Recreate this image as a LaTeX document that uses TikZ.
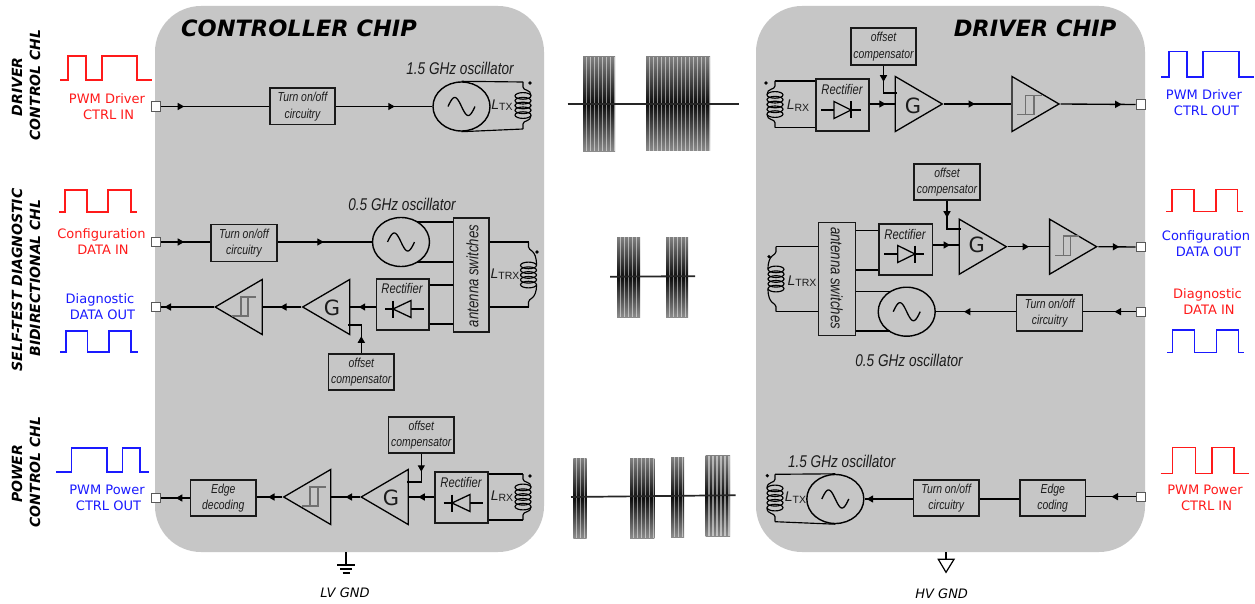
\documentclass[tikz,border=0pt]{standalone}
\usepackage{fontspec}
\usetikzlibrary{shapes.geometric,arrows.meta,decorations.markings,calc}
\setmainfont{Liberation Sans}
\newfontfamily\narrowit[FakeStretch=0.8,ItalicFont={Liberation Sans Italic}]{Liberation Sans}
\newfontfamily\dejavu{DejaVu Sans}
\definecolor{chipgray}{HTML}{C6C6C6}
\definecolor{inkdark}{HTML}{1C1C1C}
\definecolor{glyphgray}{HTML}{707070}
\definecolor{sigred}{HTML}{FF1A1A}
\definecolor{sigblue}{HTML}{1A1AFF}
\tikzset{
  chip/.style={fill=chipgray,rounded corners=46pt},
  blockbox/.style={draw=black!90,line width=1.5pt,inner sep=0pt,align=center,font=\narrowit\itshape\fontsize{13}{16.5}\selectfont,text=inkdark},
  osc/.style={ellipse,draw=black,line width=1.4pt,minimum width=57pt,minimum height=49pt,inner sep=0pt},
  port/.style={draw=black!65,fill=white,line width=0.9pt,minimum size=9.5pt,inner sep=0pt},
  ampl/.style={isosceles triangle,isosceles triangle stretches,draw=black,line width=1.3pt,minimum height=47pt,minimum width=55pt,inner sep=0pt,anchor=apex,shape border rotate=180},
  ampr/.style={ampl,shape border rotate=0},
  gtext/.style={font=\dejavu\fontsize{21}{21}\selectfont,text=inkdark,inner sep=0pt},
  wire/.style={draw=black,line width=1.35pt},
  thinw/.style={draw=black,line width=1.15pt},
  arr/.style={postaction={decorate},decoration={markings,mark=at position #1pt with {\arrow{Triangle[length=6.5pt,width=7pt]}}}},
  sig/.style={font=\dejavu\fontsize{13}{16}\selectfont,align=center,inner sep=0pt},
  wave/.style={line width=1.5pt},
  chl/.style={font=\dejavu\bfseries\itshape\fontsize{14}{14}\selectfont,rotate=90,inner sep=0pt},
  title/.style={font=\dejavu\bfseries\itshape\fontsize{22.5}{23}\selectfont,inner sep=0pt},
  osclabel/.style={font=\narrowit\itshape\fontsize{17}{17}\selectfont,text=inkdark,inner sep=0pt},
  boxtitle/.style={font=\narrowit\itshape\fontsize{14}{14}\selectfont,text=inkdark,inner sep=0pt},
  swtext/.style={font=\narrowit\itshape\fontsize{16.5}{16.5}\selectfont,text=inkdark,inner sep=0pt},
  lab/.style={font=\fontsize{14}{14}\selectfont,text=inkdark,inner sep=0pt},
  gndlabel/.style={font=\dejavu\itshape\fontsize{13}{13}\selectfont,inner sep=0pt},
  hyst/.style={draw=glyphgray,line width=1.5pt}
}
% coil: centre x, wire top y, wire bottom y, loops centre y, side sign, dot x, dot y
\newcommand{\coilsym}[7]{%
  \draw[thinw] (#1,#2) -- (#1,#2+5) .. controls (#1,#2+9) and (#1+#5*8,#2+7) .. (#1+#5*8,#4-10);
  \draw[thinw] (#1,#3) -- (#1,#3-5) .. controls (#1,#3-9) and (#1+#5*8,#3-7) .. (#1+#5*8,#4+10);
  \foreach \k in {-2,-1,0,1,2} {\draw[thinw] (#1,#4+\k*4.8) ellipse [x radius=8,y radius=3.3];}
  \fill (#6,#7) circle (1.8);
}
% schmitt glyph: low bar start, x1, x2, high bar end, ytop, ybot
\newcommand{\hystglyph}[6]{\draw[hyst] (#1,#6) -- (#3,#6) -- (#3,#5) (#2,#6) -- (#2,#5) -- (#4,#5);}
% diode: wire start, wire end, y, triangle base x, tip x, half height
\newcommand{\diodesym}[6]{%
  \draw[line width=1.3pt] (#1,#3) -- (#2,#3);
  \draw[line width=1.3pt,fill=chipgray] (#4,#3-#6) -- (#5,#3) -- (#4,#3+#6) -- cycle;
  \draw[line width=1.3pt] (#5,#3-#6) -- (#5,#3+#6);
}
\newcommand{\sinewave}[1]{\draw[line width=1.3pt,shift={(#1.center)}] plot[domain=-1:1,samples=41,smooth] ({13.5*\x},{-9*sin(180*(\x+1))});}
% burst: x0, x1, ytop, ybot
\newcommand{\burstsym}[4]{%
  \shade[top color=black!50,bottom color=black!45,middle color=black!95] (#1,#3) rectangle (#2,#4);
  \pgfmathsetmacro{\bxs}{#1+3.2}
  \pgfmathsetmacro{\bxt}{#1+7.2}
  \foreach \bx in {\bxs,\bxt,...,#2} {\draw[white,opacity=0.5,line width=1.2pt] (\bx,#3) -- (\bx,#4);}
}
\begin{document}
\begin{tikzpicture}[x=1pt,y=-1pt]
\useasboundingbox (0,0) rectangle (1255,604);
\fill[white] (0,0) rectangle (1255,604);
% chips
\path[chip] (155,6) rectangle (544,552);
\path[chip] (756,6) rectangle (1145,552);
\node[title,anchor=center] (ctitle) at (299,28) {CONTROLLER CHIP};
\node[title,anchor=center] (dtitle) at (1035,28) {DRIVER CHIP};
% left channel labels
\node[chl] (l1a) at (17,87) {DRIVER};
\node[chl] (l1b) at (35,85) {CONTROL CHL};
\node[chl] (l2a) at (17,280) {SELF-TEST DIAGNOSTIC};
\node[chl] (l2b) at (35,278) {BIDIRECTIONAL CHL};
\node[chl] (l3a) at (17,474) {POWER};
\node[chl] (l3b) at (35,472) {CONTROL CHL};
% waveforms
\draw[wave,sigred] (60,80) -- (68,80) -- (68,56) -- (86,56) -- (86,80) -- (102,80) -- (102,56) -- (137,56) -- (137,80) -- (152,80);
\draw[wave,sigred] (59,212) -- (65,212) -- (65,190) -- (87,190) -- (87,212) -- (108,212) -- (108,190) -- (131,190) -- (131,212) -- (137,212);
\draw[wave,sigblue] (60,352) -- (66,352) -- (66,331) -- (87.5,331) -- (87.5,352) -- (109,352) -- (109,331) -- (131,331) -- (131,352) -- (137.5,352);
\draw[wave,sigblue] (56,472) -- (71.5,472) -- (71.5,448) -- (107,448) -- (107,472) -- (122.5,472) -- (122.5,448) -- (140,448) -- (140,472) -- (149,472);
\draw[wave,sigblue] (1161,77) -- (1169,77) -- (1169,51.7) -- (1187,51.7) -- (1187,77) -- (1203,77) -- (1203,51.7) -- (1239,51.7) -- (1239,77) -- (1254,77);
\draw[wave,sigred] (1166,211.7) -- (1172,211.7) -- (1172,189.3) -- (1194,189.3) -- (1194,211.7) -- (1216,211.7) -- (1216,189.3) -- (1237.7,189.3) -- (1237.7,211.7) -- (1243.3,211.7);
\draw[wave,sigblue] (1167.3,352.3) -- (1172.7,352.3) -- (1172.7,330) -- (1194.7,330) -- (1194.7,352.3) -- (1216.7,352.3) -- (1216.7,330) -- (1238.3,330) -- (1238.3,352.3) -- (1244,352.3);
\draw[wave,sigred] (1160.7,473.3) -- (1172.3,473.3) -- (1172.3,447.3) -- (1195.3,447.3) -- (1195.3,473.3) -- (1212,473.3) -- (1212,447.3) -- (1234,447.3) -- (1234,473.3) -- (1249.3,473.3);
% signal labels
\node[sig,text=sigred] (s1) at (107,107) {PWM Driver\\[0pt]\hspace*{3pt}CTRL IN};
\node[sig,text=sigred] (s2) at (101.5,242) {Configuration\\[0pt]\hspace*{3pt}DATA IN};
\node[sig,text=sigblue] (s3) at (100,307) {Diagnostic\\[0pt]\hspace*{5pt}DATA OUT};
\node[sig,text=sigblue] (s4) at (107,498) {PWM Power\\[0pt]\hspace*{3pt}CTRL OUT};
\node[sig,text=sigblue] (s5) at (1204,103) {PWM Driver\\[0pt]\hspace*{5pt}CTRL OUT};
\node[sig,text=sigblue] (s6) at (1206,244) {Configuration\\[0pt]\hspace*{5pt}DATA OUT};
\node[sig,text=sigred] (s7) at (1207.5,302) {Diagnostic\\[0pt]\hspace*{3pt}DATA IN};
\node[sig,text=sigred] (s8) at (1205,498) {PWM Power\\[0pt]\hspace*{3pt}CTRL IN};
% bursts
\burstsym{583}{615}{57}{151.5}
\burstsym{646}{678}{57}{151}
\burstsym{678}{710}{57}{151}
\draw[line width=2pt,black!85] (567.7,103.7) -- (739,103.7);
\burstsym{617}{640}{237}{317}
\burstsym{666}{688}{237}{317}
\draw[line width=1.8pt,black!85] (610,276.7) -- (695,276.2);
\burstsym{573.3}{586.7}{458}{538}
\burstsym{630}{654.3}{458}{538}
\burstsym{671}{684}{457}{537}
\burstsym{705.7}{730}{455.7}{536}
\draw[line width=1.7pt,black!85] (571,497) -- (735.7,495.2);

% ---------- CONTROLLER row 1
\node[port] (p1) at (156,106.5) {};
\node[blockbox,minimum width=65pt,minimum height=36.5pt] (c1turn) at (302.5,106.5) {Turn on/off\\circuitry};
\node[osc] (c1osc) at (461.5,106.5) {};
\sinewave{c1osc}
\node[osclabel] (c1ol) at (460,68) {1.5 GHz oscillator};
\node[lab] (c1L) at (502,105) {\textit{L}\raisebox{-1.5pt}{\fontsize{10.5}{10.5}\selectfont TX}};
\coordinate (c1ct) at (523,82);
\coordinate (c1cb) at (523,129);
\coilsym{523}{82}{129}{105.5}{1}{530}{83}
\path[wire,arr=23] (p1.east) -- (c1turn.west);
\path[wire,arr=59] (c1turn.east) -- (c1osc.west);
\draw[thinw] (c1osc.north) -- (c1ct);
\draw[thinw] (c1osc.south) -- (c1cb);

% ---------- CONTROLLER row 2
\node[port] (p2) at (156,242) {};
\node[blockbox,minimum width=66pt,minimum height=37pt] (c2turn) at (244,243) {Turn on/off\\circuitry};
\node[osc] (c2osc) at (401,242) {};
\sinewave{c2osc}
\node[osclabel] (c2ol) at (402,204) {0.5 GHz oscillator};
\node[blockbox,minimum width=35.5pt,minimum height=114pt] (c2sw) at (471.3,275) {};
\node[swtext,rotate=90] (c2swt) at (472.5,276) {antenna switches};
\path[wire,arr=23] (p2.east) -- (c2turn.west |- p2);
\path[wire,arr=46] (c2turn.east |- c2osc) -- (c2osc.west);
\coordinate (c2oa1) at ($(c2osc.center)+(16.4,-20)$);
\coordinate (c2ob1) at ($(c2osc.center)+(16.4,20)$);
\draw[thinw] (c2oa1) -- (c2sw.west |- c2oa1);
\draw[thinw] (c2ob1) -- (c2sw.west |- c2ob1);
\coordinate (c2ct) at (528.5,242);
\coordinate (c2cb) at (528.5,307);
\draw[thinw] (c2sw.east |- c2ct) -- (c2ct);
\draw[thinw] (c2sw.east |- c2cb) -- (c2cb);
\coilsym{528.5}{242}{307}{275}{1}{537}{252}
\node[lab] (c2L) at (505,274) {\textit{L}\raisebox{-1.5pt}{\fontsize{10.5}{10.5}\selectfont TRX}};
\node[blockbox,minimum width=52.5pt,minimum height=51pt] (c2rect) at (402.7,304.5) {};
\node[boxtitle] (c2rt) at (402,288) {Rectifier};
\diodesym{385}{424}{309}{411}{393}{8.5}
\draw[thinw] (c2rect.east |- 0,285) -- (c2sw.west |- 0,285);
\draw[thinw] (c2rect.east |- 0,324) -- (c2sw.west |- 0,324);
\node[ampl] (c2g) at (301,307) {};
\node[gtext] (c2gt) at (332,308) {G};
\node[ampl] (c2s) at (213.5,307) {};
\hystglyph{232}{241}{248}{256}{297}{316}
\node[port] (p3) at (156,307) {};
\node[blockbox,minimum width=65.5pt,minimum height=36pt] (c2off) at (361.3,372) {offset\\compensator};
\path[wire,arr=17] (c2rect.west |- c2g) -- (c2g.lower side);
\path[wire,arr=21] (c2g.apex) -- (c2s.lower side);
\path[wire,arr=49] (c2s.apex) -- (p3.east);
\coordinate (c2oa) at (347.5,325);
\path[wire,arr=17] (c2off.north) |- (c2oa);

% ---------- CONTROLLER row 3
\node[port] (p4) at (156,498) {};
\node[blockbox,minimum width=65.5pt,minimum height=36pt] (c3edge) at (223.3,498) {Edge\\decoding};
\node[ampl] (c3s) at (282,497) {};
\hystglyph{302}{310}{318}{326}{487}{506}
\node[ampl] (c3g) at (359.5,497) {};
\node[gtext] (c3gt) at (391,498) {G};
\node[blockbox,minimum width=53pt,minimum height=51pt] (c3rect) at (461.5,497.5) {};
\node[boxtitle] (c3rt) at (461,482) {Rectifier};
\diodesym{443.5}{483}{503}{470}{452}{8.5}
\node[blockbox,minimum width=65.5pt,minimum height=36pt] (c3off) at (421.3,435) {offset\\compensator};
\path[wire,arr=16] (c3rect.west |- c3g) -- (c3g.lower side);
\path[wire,arr=14] (c3g.apex) -- (c3s.lower side);
\path[wire,arr=14] (c3s.apex) -- (c3edge.east |- c3s);
\path[wire,arr=14] (c3edge.west |- p4) -- (p4.east);
\coordinate (c3oa) at (407,482);
\path[wire,arr=18] (c3off.south) |- (c3oa);
\coordinate (c3ct) at (523,474);
\coordinate (c3cb) at (523,520);
\draw[thinw] (c3rect.east |- c3ct) -- (c3ct);
\draw[thinw] (c3rect.east |- c3cb) -- (c3cb);
\coilsym{523}{474}{520}{497}{1}{530}{476}
\node[lab] (c3L) at (502,496) {\textit{L}\raisebox{-1.5pt}{\fontsize{10.5}{10.5}\selectfont RX}};

% LV GND
\coordinate (lvtop) at (346,552);
\coordinate (lvbot) at (346,565);
\draw[line width=1.2pt] (lvtop) -- (lvbot);
\draw[line width=1.2pt] (337,565) -- (355,565) (340,569) -- (352,569) (342.5,573) -- (349.5,573);
\node[gndlabel] (lvgnd) at (345,593) {LV GND};

% ---------- DRIVER row 1
\node[blockbox,minimum width=65pt,minimum height=37pt] (d1off) at (883.5,46.5) {offset\\compensator};
\node[blockbox,minimum width=53pt,minimum height=52pt] (d1rect) at (842.5,105) {};
\node[boxtitle] (d1rt) at (842,89) {Rectifier};
\diodesym{821}{861}{110}{834}{851}{8.5}
\node[ampr] (d1g) at (944,104) {};
\node[gtext] (d1gt) at (913,105.7) {G};
\node[ampr] (d1s) at (1060.7,104) {};
\hystglyph{1017}{1025.7}{1034}{1041.7}{95.7}{114.7}
\node[port] (p5) at (1140.7,104.5) {};
\path[wire,arr=16] (d1rect.east |- d1g) -- (d1g.lower side);
\path[wire,arr=31] (d1g.apex) -- (d1s.lower side);
\path[wire,arr=61] (d1s.apex) -- (p5.west);
\coordinate (d1oa) at (897,93);
\path[wire,arr=16] (d1off.south) |- (d1oa);
\coordinate (d1ct) at (775,81);
\coordinate (d1cb) at (775,127.7);
\draw[thinw] (d1rect.west |- d1ct) -- (d1ct);
\draw[thinw] (d1rect.west |- d1cb) -- (d1cb);
\coilsym{775}{81}{127.7}{104.5}{-1}{766}{83}
\node[lab] (d1L) at (798,105.7) {\textit{L}\raisebox{-1.5pt}{\fontsize{10.5}{10.5}\selectfont RX}};

% ---------- DRIVER row 2
\node[blockbox,minimum width=66pt,minimum height=36pt] (d2off) at (947,182) {offset\\compensator};
\node[blockbox,minimum width=53.3pt,minimum height=51pt] (d2rect) at (905.7,249.5) {};
\node[boxtitle] (d2rt) at (905,234.3) {Rectifier};
\diodesym{884}{924}{254}{897.7}{915}{8.5}
\node[ampr] (d2g) at (1008,246.7) {};
\node[gtext] (d2gt) at (976.7,245) {G};
\node[ampr] (d2s) at (1098.3,246.7) {};
\hystglyph{1079.3}{1070.7}{1063.3}{1055}{255.7}{236}
\node[port] (p6) at (1140.7,247) {};
\path[wire,arr=17] (d2rect.east |- 0,245) -- (d2g.lower side |- 0,245);
\path[wire,arr=21] (d2g.apex) -- (d2s.lower side);
\path[wire,arr=21] (d2s.apex) -- (p6.west);
\coordinate (d2oa) at (960.7,229);
\path[wire,arr=17] (d2off.south) |- (d2oa);
\node[blockbox,minimum width=36.6pt,minimum height=113.4pt] (d2sw) at (837,279) {};
\node[swtext,rotate=-90] (d2swt) at (836.7,278) {antenna switches};
\draw[thinw] (d2sw.east |- 0,230.7) -- (d2rect.west |- 0,230.7);
\draw[thinw] (d2sw.east |- 0,270) -- (d2rect.west |- 0,270);
\node[osc] (d2osc) at (906.7,311.7) {};
\sinewave{d2osc}
\coordinate (d2oa1) at ($(d2osc.center)+(-16.4,-20)$);
\coordinate (d2ob1) at ($(d2osc.center)+(-16.4,19.3)$);
\draw[thinw] (d2sw.east |- d2oa1) -- (d2oa1);
\draw[thinw] (d2sw.east |- d2ob1) -- (d2ob1);
\node[osclabel] (d2ol) at (909,360) {0.5 GHz oscillator};
\node[blockbox,minimum width=66pt,minimum height=36pt] (d2turn) at (1049.7,313) {Turn on/off\\circuitry};
\node[port] (p7) at (1140.7,311.7) {};
\path[wire,arr=21] (p7.west) -- (d2turn.east |- p7);
\path[wire,arr=52] (d2turn.west |- d2osc) -- (d2osc.east);
\coordinate (d2ct) at (776,246.7);
\coordinate (d2cb) at (776,311.7);
\draw[thinw] (d2sw.west |- d2ct) -- (d2ct);
\draw[thinw] (d2sw.west |- d2cb) -- (d2cb);
\coilsym{776}{246.7}{311.7}{279}{-1}{769}{256.7}
\node[lab] (d2L) at (802,281) {\textit{L}\raisebox{-1.5pt}{\fontsize{10.5}{10.5}\selectfont TRX}};

% ---------- DRIVER row 3
\node[port] (p8) at (1140.7,496.7) {};
\node[blockbox,minimum width=65.3pt,minimum height=36pt] (d3edge) at (1052.7,498) {Edge\\coding};
\node[blockbox,minimum width=65.7pt,minimum height=36pt] (d3turn) at (946.2,498) {Turn on/off\\circuitry};
\node[osc] (d3osc) at (835.3,499) {};
\sinewave{d3osc}
\node[osclabel] (d3ol) at (841.7,461) {1.5 GHz oscillator};
\path[wire,arr=24] (p8.west) -- (d3edge.east |- p8);
\draw[wire] (d3edge.west |- d3osc) -- (d3turn.east |- d3osc);
\path[wire,arr=46] (d3turn.west |- d3osc) -- (d3osc.east);
\coordinate (d3ct) at (775,474.3);
\coordinate (d3cb) at (775,521.7);
\draw[thinw] (d3osc.north) -- (d3ct);
\draw[thinw] (d3osc.south) -- (d3cb);
\coilsym{775}{474.3}{521.7}{498}{-1}{767.3}{475.7}
\node[lab,fill=none] (d3L) at (795.5,497.7) {\textit{L}\raisebox{-1.5pt}{\fontsize{10.5}{10.5}\selectfont TX}};

% HV GND
\coordinate (hvtop) at (946,552);
\coordinate (hvbot) at (946,559.3);
\draw[line width=1.2pt] (hvtop) -- (hvbot);
\draw[line width=1.2pt] (938.3,559.3) -- (954,559.3) -- (946,572.3) -- cycle;
\node[gndlabel] (hvgnd) at (941.7,593.3) {HV GND};
\end{tikzpicture}
\end{document}
